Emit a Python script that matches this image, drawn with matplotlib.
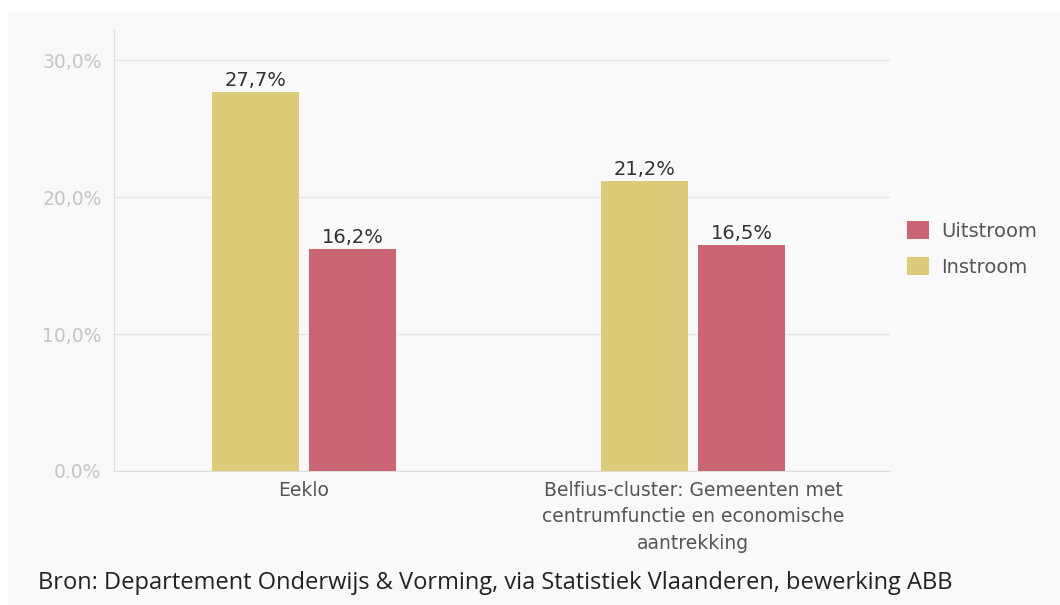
import matplotlib
matplotlib.use("Agg")
import matplotlib.pyplot as plt
from matplotlib.patches import Rectangle, Patch
import numpy as np

categories = ["Eeklo", "Belfius-cluster: Gemeenten met\ncentrumfunctie en economische\naantrekking"]
series_names = ["Instroom", "Uitstroom"]
instroom = [27.7, 21.2]
uitstroom = [16.2, 16.5]
value_labels_in = ["27,7%", "21,2%"]
value_labels_out = ["16,2%", "16,5%"]
y_ticks = [0, 10, 20, 30]
y_tick_labels = ["0.0%", "10,0%", "20,0%", "30,0%"]
source = "Bron: Departement Onderwijs & Vorming, via Statistiek Vlaanderen, bewerking ABB"

col_in = "#dccb78"
col_out = "#cb6473"
bg = "#f9f9f9"

fig = plt.figure(figsize=(10.6, 6.05), dpi=100, facecolor="white")
fig.patches.append(Rectangle((8/1060, 0), 1 - 8/1060, 1 - 11/605,
                             transform=fig.transFigure, facecolor=bg,
                             edgecolor="none", zorder=-10))
ax = fig.add_axes([114/1060, 1 - 471/605, (890 - 114)/1060, (471 - 30)/605])
ax.set_facecolor(bg)

x = np.arange(len(categories))
w = 0.224
off = 0.125
b1 = ax.bar(x - off, instroom, w, color=col_in, zorder=3)
b2 = ax.bar(x + off, uitstroom, w, color=col_out, zorder=3)

for rect, lab in zip(b1, value_labels_in):
    ax.text(rect.get_x() + rect.get_width()/2, rect.get_height() + 0.12, lab,
            ha="center", va="bottom", fontsize=14, color="#333333", family="DejaVu Sans")
for rect, lab in zip(b2, value_labels_out):
    ax.text(rect.get_x() + rect.get_width()/2, rect.get_height() + 0.12, lab,
            ha="center", va="bottom", fontsize=14, color="#333333", family="DejaVu Sans")

ax.set_xlim(-0.488, 1.506)
ax.set_ylim(0, 32.2)
ax.set_yticks(y_ticks)
ax.set_yticklabels(y_tick_labels, fontsize=13.5, color="#c4c4c4", family="DejaVu Sans")
ax.set_xticks(x)
ax.set_xticklabels(categories, fontsize=13.5, color="#555555", family="DejaVu Sans",
                   linespacing=1.5)
ax.tick_params(axis="both", length=0)
ax.tick_params(axis="y", pad=9)
ax.tick_params(axis="x", pad=7)
ax.grid(axis="y", color="#e6e6e6", linewidth=1, zorder=0)
for s in ["top", "right"]:
    ax.spines[s].set_visible(False)
ax.spines["left"].set_color("#dddddd")
ax.spines["bottom"].set_color("#dddddd")

handles = [Patch(facecolor=col_out, edgecolor="none"), Patch(facecolor=col_in, edgecolor="none")]
fig.legend(handles, ["Uitstroom", "Instroom"], loc="upper left",
           bbox_to_anchor=(907/1060, 1 - 221/605), frameon=False,
           borderpad=0, borderaxespad=0,
           prop={"family": "DejaVu Sans", "size": 14}, labelcolor="#555555",
           handlelength=1.15, handleheight=1.05, handletextpad=0.6, labelspacing=0.85)

fig.text(38/1060, 1 - 583/605, source, fontsize=17, color="#222222",
         family="Open Sans", va="center", ha="left")

fig.savefig("out.png", dpi=100, facecolor=fig.get_facecolor())
